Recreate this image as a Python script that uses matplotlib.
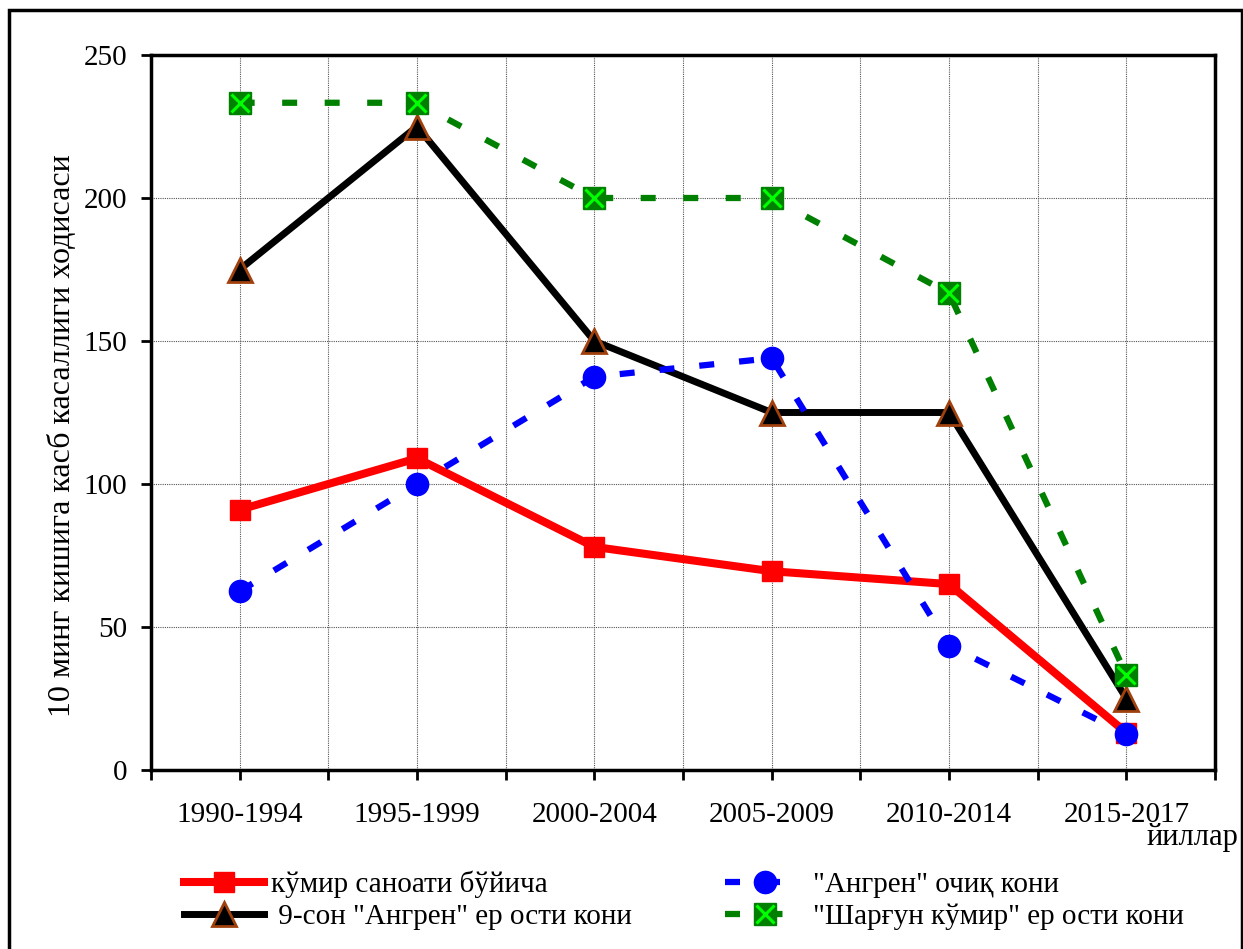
import matplotlib
matplotlib.use("Agg")
import matplotlib.pyplot as plt
from matplotlib.patches import Rectangle
from matplotlib.legend_handler import HandlerTuple

periods = ["1990-1994", "1995-1999", "2000-2004", "2005-2009", "2010-2014", "2015-2017"]
coal_industry = [91, 109, 78, 69.5, 65, 13]
angren_open = [62.5, 100, 137.5, 144, 43.5, 12.5]
angren_no9 = [175, 225, 150, 125, 125, 25]
shargun = [233.3, 233.3, 200, 200, 166.7, 33.3]

labels = [
    "кўмир саноати бўйича",
    " 9-сон \"Ангрен\" ер ости кони",
    "\"Ангрен\" очиқ кони",
    "\"Шарғун кўмир\" ер ости кони",
]

plt.rcParams["font.family"] = ["Liberation Serif", "DejaVu Serif"]

fig = plt.figure(figsize=(12.43, 9.49), dpi=100)
ax = fig.add_axes([151 / 1243, 1 - 770 / 949, (1215 - 151) / 1243, (770 - 55) / 949])

x = list(range(len(periods)))

l_red, = ax.plot(x, coal_industry, color="#FF0000", lw=5.8, marker="s", ms=15,
                 mfc="#FF0000", mec="#FF0000", zorder=3)
l_black, = ax.plot(x, angren_no9, color="black", lw=5.0, marker="^", ms=17,
                   mfc="black", mec="#A0410D", mew=2, zorder=4)
l_blue, = ax.plot(x, angren_open, color="#0000FF", lw=4.5, dashes=(2.4, 4.0),
                  marker="o", ms=16, mfc="#0000FF", mec="#0000FF", zorder=5)
l_green, = ax.plot(x, shargun, color="#008000", lw=4.5, dashes=(2.4, 4.4),
                   marker="s", ms=16, mfc="#008000", mec="#008000", zorder=6)
l_gx, = ax.plot(x, shargun, ls="none", marker="x", ms=13, mew=2.2,
                color="#00FF00", zorder=7)

ax.set_xlim(-0.5, 5.5)
ax.set_ylim(0, 250)
ax.set_yticks([0, 50, 100, 150, 200, 250])
ax.set_xticks(x)
ax.set_xticklabels(periods)
ax.set_xticks([i + 0.5 for i in range(-1, 6)], minor=True)
ax.tick_params(axis="both", which="both", direction="out", length=7, width=2,
               labelsize=21, colors="black")
ax.tick_params(axis="x", which="major", pad=16)
ax.tick_params(axis="y", pad=10)
ax.grid(which="both", axis="x", color="#555555", lw=0.8, ls=(0, (1, 1)))
ax.grid(which="major", axis="y", color="#555555", lw=0.8, ls=(0, (1, 1)))
ax.set_axisbelow(True)
for sp in ax.spines.values():
    sp.set_linewidth(2.5)

ax.set_ylabel("10 минг кишига касб касаллиги ходисаси", fontsize=23)
ax.yaxis.set_label_coords(-0.07, 0.467)
fig.text(1238 / 1243, 1 - 838 / 949, "йиллар", fontsize=22, ha="right", va="center")

fig.legend([l_red, l_black, l_blue, (l_green, l_gx)], labels, ncol=2,
           loc="upper left", bbox_to_anchor=(166 / 1243, 1 - 853 / 949),
           frameon=False, fontsize=21, handlelength=2.75, handletextpad=0.25,
           columnspacing=3.2, labelspacing=0.2, borderpad=0.1,
           handler_map={tuple: HandlerTuple(ndivide=1)})

fig.patches.append(Rectangle((9 / 1243, -0.05), 1233 / 1243, 1.05 - 10 / 949,
                             transform=fig.transFigure, fill=False, lw=2.5,
                             edgecolor="black"))

fig.savefig("out.png", dpi=100)
